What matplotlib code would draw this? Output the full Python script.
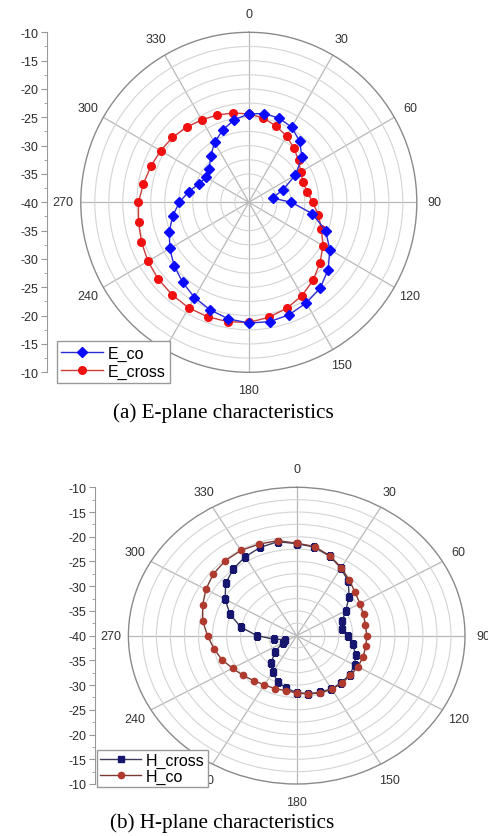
#!/usr/bin/env python3
'''
E-plane and H-plane radiation patterns (polar, dB)
'''
import numpy as np
import matplotlib
matplotlib.use("Agg")
import matplotlib.pyplot as plt

plt.rcParams['font.family'] = ['Liberation Sans', 'DejaVu Sans']

# angles in degrees, every 10 deg
angles = list(range(0, 360, 10))

# E-plane (dB)
e_co = [-24.4, -24.1, -24.2, -24.7, -25.9, -27.6, -30.4, -33.5, -35.7, -32.4,
        -28.5, -25.4, -23.3, -21.5, -20.2, -19.5, -18.9, -18.6, -18.7, -19.1,
        -19.8, -20.6, -21.6, -22.6, -23.7, -24.9, -26.2, -27.6, -29.1, -30.5,
        -31.2, -30.8, -29.4, -27.8, -26.4, -25.2]
e_cross = [-24.4, -24.9, -25.7, -26.5, -27.5, -28.4, -29.3, -29.7, -29.4, -28.6,
           -27.4, -26.2, -24.7, -23.4, -22.1, -21.0, -20.1, -19.4, -18.8, -18.6,
           -18.5, -18.5, -18.7, -18.9, -19.2, -19.6, -20.0, -20.3, -20.9, -21.4,
           -21.8, -22.2, -22.7, -23.2, -23.6, -24.0]

# H-plane (dB)
h_cross = [-21.4, -21.8, -22.9, -24.2, -25.7, -27.8, -29.9, -31.4, -31.75, -30.9,
           -29.9, -28.8, -28.1, -27.7, -27.6, -27.6, -27.8, -28.1, -28.5, -29.2,
           -30.1, -31.4, -32.9, -35.0, -37.1, -37.7, -35.9, -32.9, -29.85, -27.35,
           -25.25, -23.5, -22.4, -21.6, -21.0, -20.7]
h_co = [-21.3, -21.7, -22.8, -24.1, -25.4, -26.4, -27.0, -27.3, -27.6, -27.5,
        -27.5, -27.4, -27.4, -27.5, -27.45, -27.5, -27.7, -28.0, -28.4, -28.7,
        -28.6, -28.5, -28.1, -27.5, -26.8, -25.8, -25.0, -24.1, -23.0, -22.15,
        -21.3, -20.6, -20.2, -20.1, -20.3, -20.5]

theta_labels = ['0', '30', '60', '90', '120', '150', '180',
                '210', '240', '270', '300', '330']
side_labels = ['-10', '-15', '-20', '-25', '-30', '-35', '-40',
               '-35', '-30', '-25', '-20', '-15', '-10']

W, H = 489, 837


def rect(x0, y0, x1, y1):
    # pixel box (top-left origin) -> figure fraction
    return [x0 / W, 1 - y1 / H, (x1 - x0) / W, (y1 - y0) / H]


def closed(vals):
    return np.deg2rad(angles + [360]), vals + [vals[0]]


def polar_panel(fig, box):
    ax = fig.add_axes(box, projection='polar')
    ax.set_aspect('auto')
    ax.set_theta_zero_location('N')
    ax.set_theta_direction(-1)
    ax.set_rlim(-40, -10)
    ax.set_rticks(np.arange(-37.5, -10, 2.5))
    ax.set_yticklabels([])
    ax.set_thetagrids(range(0, 360, 30), theta_labels)
    ax.set_xticks(np.deg2rad(np.arange(15, 360, 30)), minor=True)
    ax.tick_params(axis='x', labelsize=9, labelcolor='#333333', pad=6,
                   length=0)
    ax.tick_params(axis='x', which='minor', direction='in', length=4,
                   color='#aaaaaa')
    ax.grid(True, axis='y', color='#d4d4d4', lw=0.8)
    ax.grid(True, axis='x', color='#b8b8b8', lw=0.9)
    ax.spines['polar'].set_color('#8a8a8a')
    ax.spines['polar'].set_linewidth(1.0)
    return ax


def side_axis(fig, box):
    ax = fig.add_axes(box)
    ax.set_facecolor('none')
    for s in ['top', 'right', 'bottom']:
        ax.spines[s].set_visible(False)
    ax.spines['left'].set_color('#999999')
    ax.set_ylim(-30, 30)
    ax.set_yticks(np.arange(-30, 31, 5))
    ax.set_yticklabels(side_labels[::-1])
    ax.set_yticks(np.arange(-27.5, 30, 5), minor=True)
    ax.set_xticks([])
    ax.tick_params(axis='y', which='major', length=4, color='#999999',
                   labelsize=9, labelcolor='#2a2a2a', pad=2)
    ax.tick_params(axis='y', which='minor', length=2, color='#999999')
    return ax


fig = plt.figure(figsize=(4.89, 8.37), dpi=100)

# (a) E-plane
ax1 = polar_panel(fig, rect(80.8, 33.3, 416.8, 373.3))
t, r = closed(e_co)
ax1.plot(t, r, color='#2b2bd6', lw=1.0, marker='D', ms=5,
         mfc='#0a0aff', mec='#0a0aff', label='E_co', zorder=4)
t, r = closed(e_cross)
ax1.plot(t, r, color='#cc3a3a', lw=1.0, marker='o', ms=5.5,
         mfc='#f01010', mec='#f01010', label='E_cross', zorder=3)
side_axis(fig, rect(46.7, 33.3, 46.9, 373.3))
h1, l1 = ax1.get_legend_handles_labels()
fig.legend(h1, l1, loc='lower left', bbox_to_anchor=(56.7 / W, 1 - 384.3 / H),
           fontsize=11.5, handlelength=2.6, borderpad=0.3, labelspacing=0.15,
           handletextpad=0.3, fancybox=False, framealpha=1,
           edgecolor='#999999', borderaxespad=0)
fig.text(223 / W, 1 - 413 / H, '(a) E-plane characteristics',
         ha='center', va='center', family='Liberation Serif', fontsize=15.2)

# (b) H-plane
ax2 = polar_panel(fig, rect(128.4, 488.3, 465.0, 785.0))
t, r = closed(h_cross)
ax2.plot(t, r, color='#3a3a5a', lw=1.0, marker='s', ms=3.8,
         mfc='#16166e', mec='#16166e', label='H_cross', zorder=3)
t, r = closed(h_co)
ax2.plot(t, r, color='#7a3a34', lw=1.0, marker='o', ms=4.5,
         mfc='#b03a2e', mec='#b03a2e', label='H_co', zorder=4)
side_axis(fig, rect(95, 488.3, 95.2, 785.0))
h2, l2 = ax2.get_legend_handles_labels()
fig.legend(h2, l2, loc='lower left', bbox_to_anchor=(96.7 / W, 1 - 788.3 / H),
           fontsize=11.5, handlelength=2.6, borderpad=0.2, labelspacing=0.05,
           handletextpad=0.3, fancybox=False, framealpha=1,
           edgecolor='#999999', borderaxespad=0)
fig.text(222 / W, 1 - 823 / H, '(b) H-plane characteristics',
         ha='center', va='center', family='Liberation Serif', fontsize=15.2)

fig.savefig('out.png', dpi=100)
